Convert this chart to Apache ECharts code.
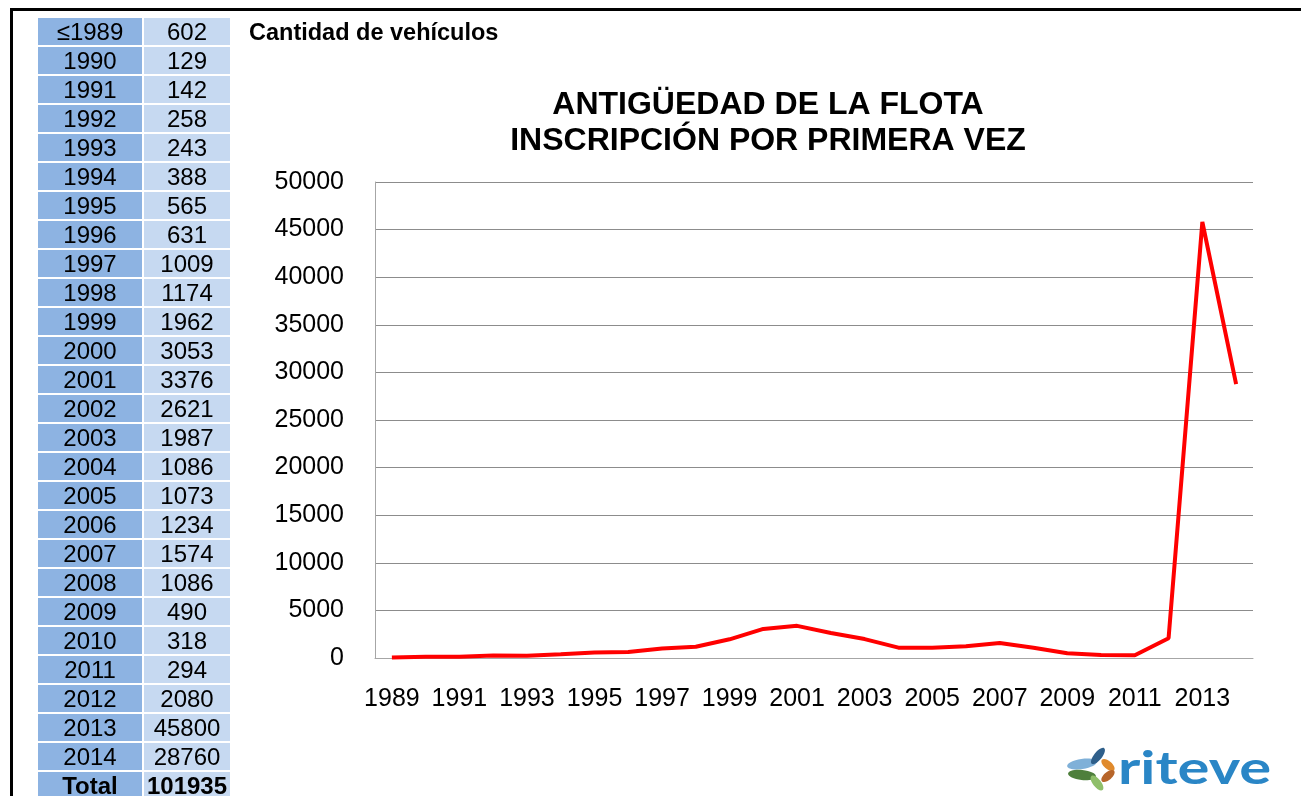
<!DOCTYPE html>
<html>
<head>
<meta charset="utf-8">
<title>Antigüedad de la flota</title>
<script src="https://cdn.jsdelivr.net/npm/echarts@6/dist/echarts.min.js"></script>
<style>
  html, body { margin: 0; padding: 0; background: #fff; }
  body { width: 1301px; height: 796px; position: relative; overflow: hidden; font-family: Arial, "Liberation Sans", sans-serif; }
  #frame { position: absolute; left: 10px; top: 8px; width: 1400px; height: 900px; border-top: 3px solid #000; border-left: 3px solid #000; }
  #chart { position: absolute; left: 0; top: 0; width: 1301px; height: 796px; }
  #tabla { position: absolute; left: 36px; top: 16px; border-collapse: separate; border-spacing: 2px; z-index: 2; }
  #tabla td { height: 27px; padding: 0; font-size: 24px; line-height: 27px; text-align: center; color: #000; }
  #tabla td.anio { width: 104px; background: #8db3e2; }
  #tabla td.valor { width: 86px; background: #c6d9f1; }
  #tabla tr.total td { font-weight: bold; }
</style>
</head>
<body>
<div id="frame"></div>
<div id="chart"></div>
<table id="tabla"></table>
<script>
// tabla de la izquierda
var tablaAnios = ['≤1989', '1990', '1991', '1992', '1993', '1994', '1995', '1996', '1997', '1998',
  '1999', '2000', '2001', '2002', '2003', '2004', '2005', '2006', '2007', '2008',
  '2009', '2010', '2011', '2012', '2013', '2014']
var tablaValores = [602, 129, 142, 258, 243, 388, 565, 631, 1009, 1174,
  1962, 3053, 3376, 2621, 1987, 1086, 1073, 1234, 1574, 1086,
  490, 318, 294, 2080, 45800, 28760]
var tablaTotal = 101935

// datos del grafico (1989 aparece casi en cero en la curva)
var anios = ['1989', '1990', '1991', '1992', '1993', '1994', '1995', '1996', '1997', '1998',
  '1999', '2000', '2001', '2002', '2003', '2004', '2005', '2006', '2007', '2008',
  '2009', '2010', '2011', '2012', '2013', '2014']
var vehiculos = [40, 129, 142, 258, 243, 388, 565, 631, 1009, 1174,
  1962, 3053, 3376, 2621, 1987, 1086, 1073, 1234, 1574, 1086,
  490, 318, 294, 2080, 45800, 28760]

var html = ''
tablaAnios.forEach(function(a, i) {
  html += '<tr><td class="anio">' + a + '</td><td class="valor">' + tablaValores[i] + '</td></tr>'
})
html += '<tr class="total"><td class="anio">Total</td><td class="valor">' + tablaTotal + '</td></tr>'
document.getElementById('tabla').innerHTML = html

var fuente = 'Arial, "Liberation Sans", sans-serif'
var chart = echarts.init(document.getElementById('chart'))
var option = {
  animation: false,
  title: [
    {
      text: 'Cantidad de vehículos',
      left: 244,
      top: 17,
      textStyle: { fontFamily: fuente, fontSize: 23.5, fontWeight: 'bold', color: '#000' }
    },
    {
      text: 'ANTIGÜEDAD DE LA FLOTA\nINSCRIPCIÓN POR PRIMERA VEZ',
      left: 763,
      top: 82,
      textAlign: 'center',
      textStyle: { fontFamily: fuente, fontSize: 32, fontWeight: 'bold', color: '#000', lineHeight: 36 }
    }
  ],
  grid: {
    left: 375,
    right: 48,
    top: 182,
    bottom: 138
  },
  xAxis: {
    type: 'category',
    data: anios,
    boundaryGap: true,
    axisLine: { lineStyle: { color: '#a6a6a6', width: 1 } },
    axisTick: { show: false },
    axisLabel: {
      interval: 1,
      margin: 29,
      color: '#000',
      fontFamily: fuente,
      fontSize: 25
    }
  },
  yAxis: {
    type: 'value',
    min: 0,
    max: 50000,
    interval: 5000,
    axisLine: { show: true, lineStyle: { color: '#a6a6a6', width: 1 } },
    axisTick: { show: false },
    splitLine: { lineStyle: { color: '#8c8c8c', width: 1 } },
    axisLabel: {
      margin: 31,
      color: '#000',
      fontFamily: fuente,
      fontSize: 25,
      formatter: function(v) { return String(v) }
    }
  },
  series: [
    {
      name: 'Vehículos',
      type: 'line',
      data: vehiculos,
      showSymbol: false,
      lineStyle: { color: '#ff0000', width: 4 },
      itemStyle: { color: '#ff0000' }
    }
  ],
  graphic: [
    // logo riteve
    { type: 'ellipse', shape: { cx: 1082, cy: 764, rx: 15, ry: 5 }, rotation: 0.15, originX: 1082, originY: 764, style: { fill: '#7fb0d8' } },
    { type: 'ellipse', shape: { cx: 1098, cy: 756, rx: 10, ry: 4 }, rotation: 0.9, originX: 1098, originY: 756, style: { fill: '#2f5f8a' } },
    { type: 'ellipse', shape: { cx: 1082, cy: 775, rx: 14, ry: 5 }, rotation: -0.1, originX: 1082, originY: 775, style: { fill: '#4e7f3c' } },
    { type: 'ellipse', shape: { cx: 1097, cy: 783, rx: 9, ry: 4 }, rotation: -0.9, originX: 1097, originY: 783, style: { fill: '#8fbf6a' } },
    { type: 'ellipse', shape: { cx: 1108, cy: 765, rx: 8, ry: 4 }, rotation: -0.7, originX: 1108, originY: 765, style: { fill: '#e08a2c' } },
    { type: 'ellipse', shape: { cx: 1108, cy: 776, rx: 8, ry: 4 }, rotation: 0.7, originX: 1108, originY: 776, style: { fill: '#b7652a' } },
    {
      type: 'text',
      x: 1118,
      y: 746,
      scaleX: 1.3,
      style: {
        text: 'riteve',
        fontFamily: 'Lato, "Noto Sans", sans-serif',
        fontSize: 46,
        fontWeight: 'bold',
        fill: '#2a86c6'
      }
    }
  ]
}
chart.setOption(option)
</script>
</body>
</html>
